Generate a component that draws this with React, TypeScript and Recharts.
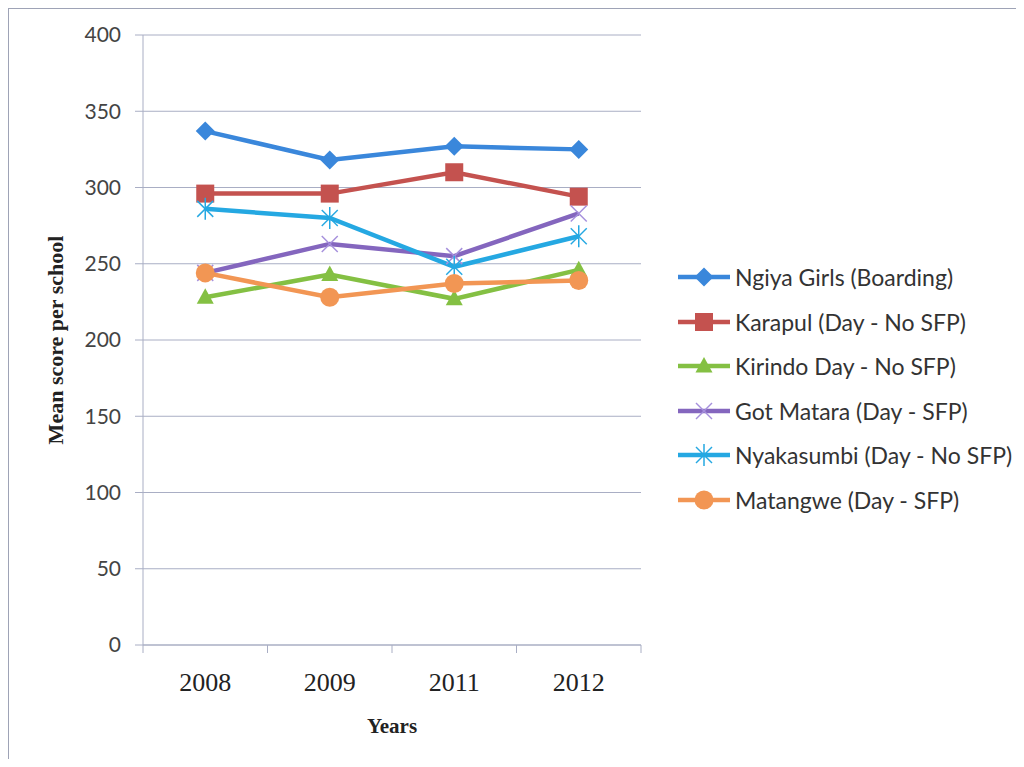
import React from 'react';
import { LineChart, Line, XAxis, YAxis, CartesianGrid, Legend, Label } from 'recharts';

const years = ['2008', '2009', '2011', '2012'];
const ngiya = [337, 318, 327, 325];
const karapul = [296, 296, 310, 294];
const kirindo = [228, 243, 227, 246];
const gotMatara = [244, 263, 255, 283];
const nyakasumbi = [286, 280, 248, 268];
const matangwe = [244, 228, 237, 239];
const yTicks = [0, 50, 100, 150, 200, 250, 300, 350, 400];

const series = [
  { key: 'ngiya', name: 'Ngiya Girls (Boarding)', values: ngiya, color: '#3a87db', shape: 'diamond' },
  { key: 'karapul', name: 'Karapul (Day - No SFP)', values: karapul, color: '#c4524f', shape: 'square' },
  { key: 'kirindo', name: 'Kirindo Day - No SFP)', values: kirindo, color: '#84c043', shape: 'triangle' },
  { key: 'gotMatara', name: 'Got Matara (Day - SFP)', values: gotMatara, color: '#8466be', shape: 'cross' },
  { key: 'nyakasumbi', name: 'Nyakasumbi (Day - No SFP)', values: nyakasumbi, color: '#25a8e2', shape: 'star' },
  { key: 'matangwe', name: 'Matangwe (Day - SFP)', values: matangwe, color: '#f29654', shape: 'circle' },
];

const data = years.map((year, i) => {
  const row: Record<string, any> = { year };
  series.forEach((s) => {
    row[s.key] = s.values[i];
  });
  return row;
});

const GRID = '#a9aec4';
const FRAME = '#9ea3b6';
const TICK_SIZE = 8;
const TICK_MARGIN = 20;

const Marker = ({ cx, cy, shape, color }: { cx: number; cy: number; shape: string; color: string }) => {
  switch (shape) {
    case 'diamond':
      return <polygon points={`${cx},${cy - 9.5} ${cx + 9.5},${cy} ${cx},${cy + 9.5} ${cx - 9.5},${cy}`} fill={color} />;
    case 'square':
      return <rect x={cx - 9} y={cy - 9} width={18} height={18} fill={color} />;
    case 'triangle':
      return <polygon points={`${cx},${cy - 9} ${cx + 8.5},${cy + 6.5} ${cx - 8.5},${cy + 6.5}`} fill={color} />;
    case 'cross':
      return (
        <g stroke="#a58fdc" strokeWidth={1.5}>
          <line x1={cx - 8} y1={cy - 8} x2={cx + 8} y2={cy + 8} />
          <line x1={cx - 8} y1={cy + 8} x2={cx + 8} y2={cy - 8} />
        </g>
      );
    case 'star':
      return (
        <g stroke={color} strokeWidth={1.5}>
          <line x1={cx - 8} y1={cy - 8} x2={cx + 8} y2={cy + 8} />
          <line x1={cx - 8} y1={cy + 8} x2={cx + 8} y2={cy - 8} />
          <line x1={cx} y1={cy - 11} x2={cx} y2={cy + 11} />
        </g>
      );
    default:
      return <circle cx={cx} cy={cy} r={9.5} fill={color} />;
  }
};

const dotFor = (shape: string, color: string) => (props: any) => (
  <Marker key={`${shape}-${props.index}`} cx={props.cx} cy={props.cy} shape={shape} color={color} />
);

const YearTick = (props: any) => {
  const { x, y, payload, index, visibleTicksCount } = props;
  const half = payload && payload.offset ? payload.offset : 62;
  const axisY = y - TICK_SIZE - TICK_MARGIN;
  const last = index === (visibleTicksCount ?? years.length) - 1;
  return (
    <g>
      <line x1={x - half} y1={axisY} x2={x - half} y2={axisY + TICK_SIZE} stroke={GRID} />
      {last && <line x1={x + half} y1={axisY} x2={x + half} y2={axisY + TICK_SIZE} stroke={GRID} />}
      <text
        x={x}
        y={y}
        dy="0.71em"
        textAnchor="middle"
        fill="#222"
        fontFamily="'Liberation Serif', 'Times New Roman', serif"
        fontSize={26}
      >
        {payload.value}
      </text>
    </g>
  );
};

const YTitle = (props: any) => {
  const vb = props.viewBox || { x: 0, y: 0, height: 0 };
  const cx = vb.x + 47;
  const cy = vb.y + vb.height / 2;
  return (
    <text
      x={cx}
      y={cy}
      transform={`rotate(-90, ${cx}, ${cy})`}
      textAnchor="middle"
      dominantBaseline="central"
      fill="#222"
      fontFamily="'Liberation Serif', 'Times New Roman', serif"
      fontWeight="bold"
      fontSize={22}
    >
      Mean score per school
    </text>
  );
};

const LegendList = () => (
  <div>
    {series.map((s) => (
      <div key={s.key} style={{ display: 'flex', alignItems: 'center', height: 44.5 }}>
        <svg width={52} height={24} style={{ flex: 'none' }}>
          <line x1={0} y1={12} x2={52} y2={12} stroke={s.color} strokeWidth={4.5} />
          <Marker cx={26} cy={12} shape={s.shape} color={s.color} />
        </svg>
        <span
          style={{
            marginLeft: 5,
            fontFamily: 'Lato, "Open Sans", sans-serif',
            fontSize: 23,
            color: '#333',
            whiteSpace: 'nowrap',
          }}
        >
          {s.name}
        </span>
      </div>
    ))}
  </div>
);

export default function App() {
  return (
    <div style={{ position: 'relative', width: 1008, height: 751 }}>
      <div
        style={{
          position: 'absolute',
          left: -2,
          top: -1,
          right: -8,
          bottom: -8,
          borderTop: `2px solid ${FRAME}`,
          borderLeft: `3px solid ${FRAME}`,
        }}
      />
      <LineChart width={1008} height={751} data={data} margin={{ top: 27, right: 375, bottom: 14, left: 0 }}>
        <CartesianGrid stroke={GRID} vertical={false} />
        <XAxis
          dataKey="year"
          scale="band"
          height={100}
          stroke={GRID}
          tickLine={false}
          tickSize={TICK_SIZE}
          tickMargin={TICK_MARGIN}
          tick={<YearTick />}
          interval={0}
        >
          <Label
            value="Years"
            position="insideBottom"
            offset={12}
            fill="#222"
            fontFamily="'Liberation Serif', 'Times New Roman', serif"
            fontWeight="bold"
            fontSize={21}
          />
        </XAxis>
        <YAxis
          width={135}
          domain={[0, 400]}
          ticks={yTicks}
          interval={0}
          stroke={GRID}
          tickSize={TICK_SIZE}
          tickMargin={14}
          tick={{ fill: '#444', fontFamily: 'Lato, "Open Sans", sans-serif', fontSize: 21 }}
          label={<YTitle />}
        />
        <Legend
          layout="vertical"
          align="center"
          verticalAlign="middle"
          content={<LegendList />}
          wrapperStyle={{ left: 670, top: 247, width: 335 }}
        />
        {series.map((s) => (
          <Line
            key={s.key}
            dataKey={s.key}
            name={s.name}
            stroke={s.color}
            strokeWidth={4.5}
            dot={dotFor(s.shape, s.color)}
            activeDot={false}
            isAnimationActive={false}
          />
        ))}
      </LineChart>
    </div>
  );
}
